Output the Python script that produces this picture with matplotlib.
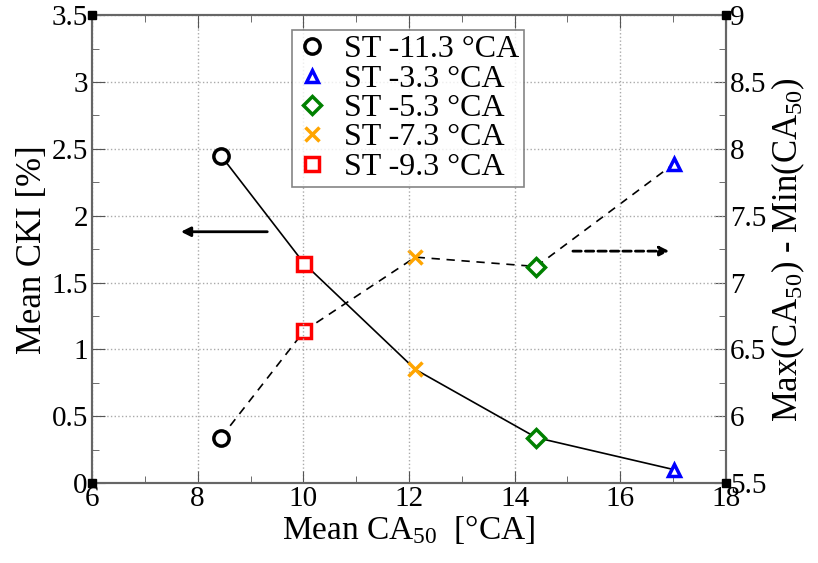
import matplotlib
matplotlib.use("Agg")
import matplotlib.pyplot as plt
from matplotlib.ticker import MultipleLocator, FormatStrFormatter

plt.rcParams['font.family'] = ['Liberation Serif', 'DejaVu Serif']
plt.rcParams['mathtext.fontset'] = 'custom'
plt.rcParams['mathtext.rm'] = 'Liberation Serif'
plt.rcParams['mathtext.it'] = 'Liberation Serif:italic'

# data
labels = ['ST -11.3 °CA', 'ST -3.3 °CA', 'ST -5.3 °CA', 'ST -7.3 °CA', 'ST -9.3 °CA']
mean_ca50 = [8.44, 17.02, 14.41, 12.12, 10.02]
mean_cki = [2.45, 0.10, 0.34, 0.85, 1.64]
ca50_spread = [5.84, 7.89, 7.12, 7.19, 6.64]
markers = ['o', '^', 'D', 'x', 's']
colors = ['black', 'blue', 'green', 'orange', 'red']
msizes = [11, 9, 9, 10, 10]

order = sorted(range(len(mean_ca50)), key=lambda i: mean_ca50[i])

fig = plt.figure(figsize=(8.18, 5.63), dpi=100)
ax = fig.add_axes([0.1125, 0.142, 0.775, 0.831])
ax2 = ax.twinx()

# connecting lines
ax.plot([mean_ca50[i] for i in order], [mean_cki[i] for i in order],
        color='black', lw=1.2, zorder=2)
ax2.plot([mean_ca50[i] for i in order], [ca50_spread[i] for i in order],
         color='black', lw=1.2, ls=(0, (5, 4)), zorder=2)

handles = []
for i in range(len(labels)):
    kw = dict(marker=markers[i], ls='none', ms=msizes[i], mew=2.5,
              mec=colors[i], mfc='white' if markers[i] != 'x' else colors[i],
              zorder=5)
    h, = ax.plot(mean_ca50[i], mean_cki[i], label=labels[i], **kw)
    ax2.plot(mean_ca50[i], ca50_spread[i], **kw)
    handles.append(h)

ax.set_xlim(6, 18)
ax.set_ylim(0, 3.5)
ax2.set_ylim(5.5, 9)
ax.xaxis.set_major_locator(MultipleLocator(2))
ax.xaxis.set_minor_locator(MultipleLocator(1))
for a in (ax, ax2):
    a.yaxis.set_major_locator(MultipleLocator(0.5))
    a.yaxis.set_minor_locator(MultipleLocator(0.25))
    a.yaxis.set_major_formatter(FormatStrFormatter('%g'))

ax.grid(True, which='major', ls=':', color='#aaaaaa', lw=1)
for a in (ax, ax2):
    a.tick_params(which='both', direction='in', labelsize=21, color='#555555', pad=3)
    a.tick_params(which='major', length=9)
    a.tick_params(which='minor', length=5)
    for s in a.spines.values():
        s.set_color('#666666')
        s.set_linewidth(1.5)
ax.tick_params(top=True, which='both')
ax.tick_params(axis='x', pad=2)

ax.set_xlabel('Mean CA$_{50}$  [°CA]', fontsize=24, labelpad=1)
ax.set_ylabel('Mean CKI [%]', fontsize=25, labelpad=2)
ax2.set_ylabel('Max(CA$_{50}$) - Min(CA$_{50}$)', fontsize=25, labelpad=2)

# arrows pointing to each axis
ax.annotate('', xy=(7.63, 1.88), xytext=(9.37, 1.88),
            arrowprops=dict(arrowstyle='-|>', color='black', lw=2, mutation_scale=14))
ax.annotate('', xy=(16.98, 1.735), xytext=(15.05, 1.735),
            arrowprops=dict(arrowstyle='-|>', color='black', lw=2, ls=(0, (3, 1.5)),
                            mutation_scale=14))

# little corner squares
for cx, cy in [(0, 0), (0, 1), (1, 0), (1, 1)]:
    ax.plot(cx, cy, marker='s', ms=6, color='black', transform=ax.transAxes,
            clip_on=False, zorder=10)

leg = ax.legend(handles=handles, loc='upper left', bbox_to_anchor=(0.315, 0.968),
                fontsize=23, frameon=True, fancybox=False, edgecolor='#666666',
                handletextpad=0.5, labelspacing=0.0, borderpad=0.15,
                handlelength=1.0, borderaxespad=0)
leg.get_frame().set_linewidth(1.2)
leg.set_zorder(20)
ax.set_zorder(ax2.get_zorder() + 1)
ax.patch.set_visible(False)

fig.savefig('out.png', dpi=100)
